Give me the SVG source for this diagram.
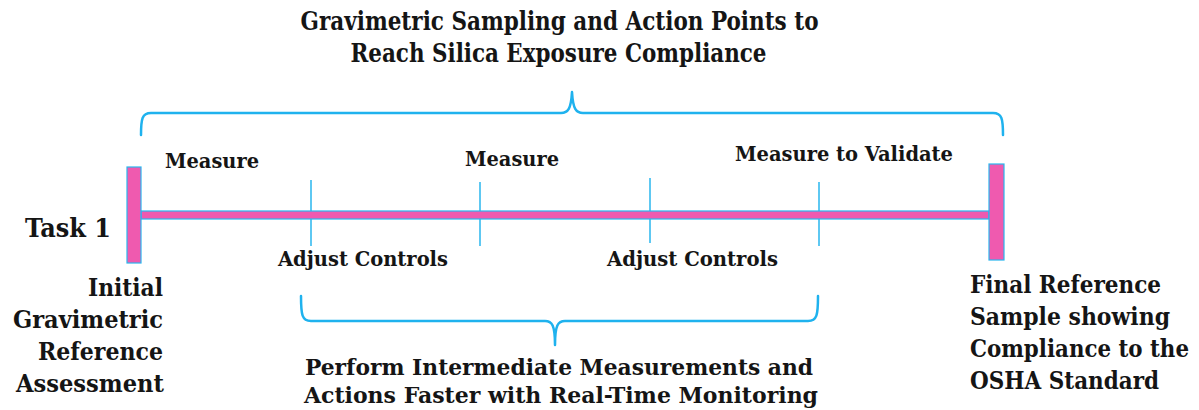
<svg xmlns="http://www.w3.org/2000/svg" width="1199" height="410" viewBox="0 0 1199 410">
<style>
text{font-family:"DejaVu Serif","Liberation Serif",serif;font-weight:bold;font-stretch:condensed;fill:#151515}
.t{font-size:26px}
.l{font-size:20.5px}
.s{font-size:24px}
.b{font-size:23px}
.bar{fill:#EF5AAF;stroke:#29B6EE;stroke-width:1.2}
.brace{fill:none;stroke:#1FB2EE;stroke-width:2.5;stroke-linecap:round;stroke-linejoin:round}
.tick{stroke:#29B6EE;stroke-width:1.5}
</style>
<rect width="1199" height="410" fill="#fff"/>
<g id="title">
<text class="t" x="300.5" y="29.5" textLength="518" lengthAdjust="spacingAndGlyphs">Gravimetric Sampling and Action Points to</text>
<text class="t" x="350.5" y="62" textLength="416" lengthAdjust="spacingAndGlyphs">Reach Silica Exposure Compliance</text>
</g>
<g id="connectors">
<path class="brace" d="M141,135 C141,119 142,113 151,113 L561,113 C568,113 571,109 572,92 C573,109 576,113 583,113 L993,113 C1002,113 1003,119 1003,135"/>
<path class="brace" d="M301,296 C301,315 302,321 311,321 L545,321 C552,321 555,325 555,345 C555,325 558,321 565,321 L808,321 C817,321 818,315 818,296"/>
<line class="tick" x1="311" y1="180" x2="311" y2="246"/>
<line class="tick" x1="480" y1="182" x2="480" y2="246"/>
<line class="tick" x1="650" y1="178" x2="650" y2="243"/>
<line class="tick" x1="819" y1="182" x2="819" y2="246"/>
</g>
<g id="timeline">
<rect class="bar" x="141" y="211" width="848" height="8"/>
<rect class="bar" x="127" y="167" width="14" height="96"/>
<rect class="bar" x="989" y="164" width="15" height="96"/>
</g>
<g id="task">
<text class="t" x="25" y="237" textLength="86" lengthAdjust="spacingAndGlyphs">Task 1</text>
</g>
<g id="measure1"><text class="l" x="165" y="168" textLength="94" lengthAdjust="spacingAndGlyphs">Measure</text></g>
<g id="measure2"><text class="l" x="465" y="166" textLength="94" lengthAdjust="spacingAndGlyphs">Measure</text></g>
<g id="measure3"><text class="l" x="735" y="161" textLength="218" lengthAdjust="spacingAndGlyphs">Measure to Validate</text></g>
<g id="adjust1"><text class="l" x="278" y="266" textLength="170" lengthAdjust="spacingAndGlyphs">Adjust Controls</text></g>
<g id="adjust2"><text class="l" x="607" y="266" textLength="171" lengthAdjust="spacingAndGlyphs">Adjust Controls</text></g>
<g id="initial">
<text class="s" x="88" y="296" textLength="75" lengthAdjust="spacingAndGlyphs">Initial</text>
<text class="s" x="13" y="328" textLength="150" lengthAdjust="spacingAndGlyphs">Gravimetric</text>
<text class="s" x="38" y="360" textLength="125" lengthAdjust="spacingAndGlyphs">Reference</text>
<text class="s" x="16" y="392" textLength="148" lengthAdjust="spacingAndGlyphs">Assessment</text>
</g>
<g id="final">
<text class="s" x="970" y="293" textLength="191" lengthAdjust="spacingAndGlyphs">Final Reference</text>
<text class="s" x="970" y="325" textLength="200" lengthAdjust="spacingAndGlyphs">Sample showing</text>
<text class="s" x="970" y="357" textLength="219" lengthAdjust="spacingAndGlyphs">Compliance to the</text>
<text class="s" x="970" y="389" textLength="189" lengthAdjust="spacingAndGlyphs">OSHA Standard</text>
</g>
<g id="intermediate">
<text class="b" x="305" y="375" textLength="508" lengthAdjust="spacingAndGlyphs">Perform Intermediate Measurements and</text>
<text class="b" x="304" y="403" textLength="514" lengthAdjust="spacingAndGlyphs">Actions Faster with Real-Time Monitoring</text>
</g>
</svg>
